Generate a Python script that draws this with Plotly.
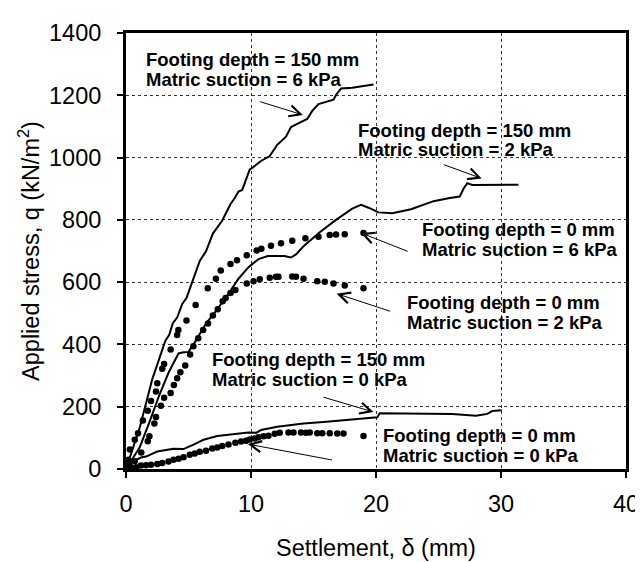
import plotly.graph_objects as go

# ---- data (settlement mm, applied stress kN/m2) ----
d150_s6_x = [0, 0.5, 1.1, 2.1, 3.15, 3.45, 3.75, 4.1, 4.5, 4.85, 5.4, 5.9, 6.4, 6.95, 7.7, 8.35, 8.7, 9.0, 9.3, 9.6, 9.9, 10.1, 10.8, 11.5, 12.1, 12.8, 13.2, 13.7, 14.5, 14.9, 15.4, 16.6, 16.8, 17.2, 18.1, 19.8]
d150_s6_y = [0, 60, 133, 288, 412, 430, 468, 487, 530, 550, 611, 668, 699, 756, 798, 850, 870, 891, 896, 930, 962, 967, 989, 1005, 1041, 1067, 1098, 1108, 1124, 1150, 1172, 1186, 1201, 1222, 1224, 1235]

d150_s2_x = [0, 0.5, 1.1, 1.9, 2.65, 3.4, 4.2, 4.6, 5.0, 5.4, 5.76, 6.4, 7.2, 7.97, 9.0, 9.8, 10.6, 11.35, 12.0, 12.66, 13.2, 13.6, 14.2, 15.5, 16.8, 18.1, 18.8, 19.4, 20.2, 21.3, 22.8, 23.5, 24.6, 25.9, 26.7, 27.0, 27.3, 27.7, 29.3, 31.4]
d150_s2_y = [0, 30, 70, 153, 236, 309, 371, 375, 376, 400, 425, 467, 508, 549, 611, 648, 674, 684, 684, 684, 679, 689, 715, 760, 800, 836, 848, 839, 824, 821, 834, 844, 860, 870, 875, 900, 918, 912, 913, 913]

d150_s0_x = [0, 0.3, 0.6, 1.2, 1.6, 2.5, 3.8, 4.6, 5.4, 6.2, 7.3, 8.8, 9.8, 10.4, 10.8, 12.1, 14.2, 15.8, 17.3, 18.9, 20.1, 20.3, 22.0, 24.6, 26.1, 28.0, 28.6, 28.9, 29.3, 30.06]
d150_s0_y = [0, 15, 25, 37, 40, 56, 65, 64, 78, 94, 106, 114, 117, 116, 125, 136, 146, 151, 156, 161, 166, 179, 179, 179, 177, 171, 175, 177, 186, 189]

d0_s6_x = [0, 0.1, 0.2, 0.31, 0.7, 0.96, 1.35, 1.74, 2.0, 2.4, 2.5, 2.9, 3.05, 3.57, 4.09, 4.19, 4.84, 5.57, 6.54, 7.19, 7.58, 8.36, 8.88, 9.66, 10.45, 10.83, 11.6, 12.4, 13.3, 14.35, 15.4, 16.3, 16.8, 17.5, 19.0]
d0_s6_y = [0, 12, 30, 63, 94, 115, 156, 187, 218, 249, 275, 322, 337, 384, 430, 446, 477, 527, 580, 611, 637, 658, 670, 686, 702, 707, 717, 725, 733, 741, 746, 751, 753, 754, 758]

d0_s2_x = [0, 0.3, 0.7, 1.22, 1.74, 1.87, 2.27, 2.4, 2.79, 3.05, 3.57, 3.83, 4.09, 4.35, 4.74, 5.13, 5.39, 5.78, 6.17, 6.56, 6.95, 7.34, 7.73, 7.97, 8.36, 8.75, 9.66, 10.2, 10.7, 11.5, 12.0, 12.2, 13.3, 13.6, 14.2, 15.3, 15.9, 16.6, 17.5, 19.0]
d0_s2_y = [0, 10, 25, 53, 89, 105, 146, 167, 203, 229, 244, 270, 291, 311, 332, 368, 394, 420, 446, 467, 493, 513, 539, 549, 565, 575, 596, 603, 609, 614, 617, 617, 618, 617, 611, 603, 601, 596, 589, 580]

d0_s0_x = [0, 0.4, 0.8, 1.2, 1.6, 2.0, 2.5, 2.9, 3.4, 3.8, 4.2, 4.6, 5.1, 5.5, 5.9, 6.4, 6.9, 7.3, 7.7, 8.2, 8.75, 9.2, 9.6, 9.9, 10.3, 10.6, 11.0, 11.4, 11.9, 12.3, 13.0, 13.4, 14.0, 14.4, 14.7, 15.3, 15.7, 16.3, 16.9, 17.4, 19.0]
d0_s0_y = [0, 3, 6, 11, 12, 14, 16, 19, 24, 30, 33, 38, 46, 50, 55, 59, 66, 69, 74, 79, 84, 88, 91, 95, 98, 102, 105, 107, 113, 116, 117, 117, 117, 116, 117, 115, 115, 115, 114, 114, 106]

# label lines and arrow (tail -> head) positions in data units
labels = [
    ("Footing depth = 150 mm", "Matric suction = 6 kPa", 1.46, 1314, 1251, (10.6, 1181), (14.15, 1137)),
    ("Footing depth = 150 mm", "Matric suction = 2 kPa", 18.42, 1088, 1026, (25.3, 979), (28.45, 933)),
    ("Footing depth = 0 mm", "Matric suction = 6 kPa", 23.5, 769, 706, (22.65, 697), (18.8, 758)),
    ("Footing depth = 0 mm", "Matric suction = 2 kPa", 22.35, 534, 471, (21.25, 505), (16.85, 563)),
    ("Footing depth = 150 mm", "Matric suction = 0 kPa", 6.72, 351, 288, (15.68, 232), (19.8, 183)),
    ("Footing depth = 0 mm", "Matric suction = 0 kPa", 20.4, 106, 43, (16.6, 28), (9.75, 80)),
]

FONT = "Liberation Sans, Arial, sans-serif"

fig = go.Figure()
for xs, ys in [(d150_s6_x, d150_s6_y), (d150_s2_x, d150_s2_y), (d150_s0_x, d150_s0_y)]:
    fig.add_trace(go.Scatter(x=xs, y=ys, mode="lines",
                             line=dict(color="black", width=2), showlegend=False))
for xs, ys in [(d0_s6_x, d0_s6_y), (d0_s2_x, d0_s2_y), (d0_s0_x, d0_s0_y)]:
    fig.add_trace(go.Scatter(x=xs, y=ys, mode="markers",
                             marker=dict(color="black", size=6.5), showlegend=False))

ann = []
for l1, l2, tx, y1, y2, tail, head in labels:
    for txt, yy in [(l1, y1), (l2, y2)]:
        ann.append(dict(x=tx, y=yy, xref="x", yref="y", text="<b>" + txt + "</b>",
                        showarrow=False, xanchor="left", yanchor="middle",
                        font=dict(family=FONT, size=18.5, color="black")))
    ann.append(dict(x=head[0], y=head[1], ax=tail[0], ay=tail[1], xref="x", yref="y",
                    axref="x", ayref="y", text="", showarrow=True, arrowhead=5,
                    arrowsize=2.2, arrowwidth=1, arrowcolor="black", standoff=0,
                    startstandoff=0))

axis_common = dict(showline=True, linecolor="black", linewidth=3, mirror=True,
                   ticks="outside", ticklen=6, tickwidth=1.5, tickcolor="black",
                   showgrid=True, gridcolor="#333", gridwidth=1, griddash="dot",
                   zeroline=False, tickfont=dict(family=FONT, size=23.5, color="black"))

fig.update_layout(
    width=643, height=562,
    margin=dict(l=118, r=13, t=16, b=95),
    paper_bgcolor="white", plot_bgcolor="white",
    annotations=ann,
    xaxis=dict(range=[0, 40], dtick=10, ticklabelstandoff=6, **axis_common,
               title=dict(text="Settlement, \u03b4 (mm)", standoff=24,
                          font=dict(family=FONT, size=23.5, color="black"))),
    yaxis=dict(range=[0, 1400], dtick=200, ticklabelstandoff=11, **axis_common,
               title=dict(text="Applied stress, q (kN/m<sup>2</sup>)", standoff=3,
                          font=dict(family=FONT, size=23.5, color="black"))),
)

fig.write_html("out.html")
